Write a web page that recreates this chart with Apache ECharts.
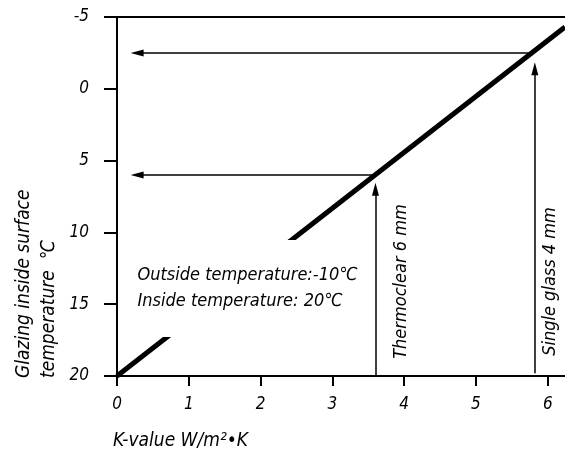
<!DOCTYPE html>
<html>
<head>
<meta charset="utf-8">
<script src="https://cdn.jsdelivr.net/npm/echarts@6/dist/echarts.min.js"></script>
<style>
  html, body { margin: 0; padding: 0; background: #fff; }
  #main { width: 565px; height: 453px; }
</style>
</head>
<body>
<div id="main"></div>
<script>
// main curve: K-value vs glazing inside surface temperature
var kValues = [0, 6.24];
var surfaceTemps = [20, -4.3];

// glazing types marked with arrows
var glazingNames = ['Thermoclear 6 mm', 'Single glass 4 mm'];
var glazingK = [3.6, 5.82];
var glazingTemps = [6.0, -2.5];
var lineK = [3.6, 5.78];          // where the horizontal arrows leave the curve
var arrowBase = [20, 19.8];       // bottom of vertical arrows
var arrowTip = [7.0, -1.4];       // top of vertical arrows
var arrowLeftK = 0.28;            // tip of horizontal arrows
var glazingLabelK = [3.965, 6.04];
var glazingLabelT = [13.42, 13.42];

var xTicks = [0, 1, 2, 3, 4, 5, 6];
var yTicks = [-5, 0, 5, 10, 15, 20];

var noteText = 'Outside temperature:-10\u2103\nInside temperature: 20\u2103';
var notePos = [0.23, 13.91];

var FONT = "'DejaVu Sans Condensed', 'DejaVu Sans', sans-serif";

var myChart = echarts.init(document.getElementById('main'));

var curve = [];
for (var i = 0; i < kValues.length; i++) {
    curve.push([kValues[i], surfaceTemps[i]]);
}

var arrows = [];
var labelPts = [];
for (var j = 0; j < glazingNames.length; j++) {
    arrows.push([{ coord: [lineK[j], glazingTemps[j]] }, { coord: [arrowLeftK, glazingTemps[j]] }]);
    arrows.push([{ coord: [glazingK[j], arrowBase[j]] }, { coord: [glazingK[j], arrowTip[j]] }]);
    labelPts.push({ name: glazingNames[j], value: [glazingLabelK[j], glazingLabelT[j]] });
}

var option = {
    animation: false,
    grid: { left: 117, right: 0, top: 17, bottom: 77, outerBoundsMode: 'none' },
    xAxis: [
        {
            type: 'value',
            min: 0,
            max: 6.24,
            interval: 1,
            position: 'bottom',
            axisLine: { show: true, onZero: false, lineStyle: { color: '#000', width: 2 } },
            axisTick: { show: true, length: 10, lineStyle: { color: '#000', width: 2 }, customValues: xTicks },
            axisLabel: {
                margin: 20, color: '#000', fontSize: 17, fontStyle: 'italic', fontFamily: FONT,
                customValues: xTicks
            },
            splitLine: { show: false }
        },
        {
            type: 'value',
            min: 0,
            max: 6.24,
            position: 'top',
            axisLine: { show: true, onZero: false, lineStyle: { color: '#000', width: 2 } },
            axisTick: { show: false },
            axisLabel: { show: false },
            splitLine: { show: false }
        }
    ],
    yAxis: {
        type: 'value',
        inverse: true,
        min: -5,
        max: 20,
        interval: 5,
        axisLine: { show: true, onZero: false, lineStyle: { color: '#000', width: 2 } },
        axisTick: { show: true, length: 13, lineStyle: { color: '#000', width: 2 }, customValues: yTicks },
        axisLabel: {
            margin: 28, color: '#000', fontSize: 17, fontStyle: 'italic', fontFamily: FONT,
            customValues: yTicks
        },
        splitLine: { show: false }
    },
    graphic: [
        {
            type: 'text',
            x: 12,
            y: 378,
            rotation: Math.PI / 2,
            style: {
                text: 'Glazing inside surface\ntemperature  \u2103',
                fill: '#000',
                font: 'italic 19px ' + FONT,
                lineHeight: 25,
                textAlign: 'left',
                textVerticalAlign: 'top'
            }
        },
        {
            type: 'text',
            x: 113,
            y: 441,
            style: {
                text: 'K-value W/m\u00b2\u2022K',
                fill: '#000',
                font: 'italic 19px ' + FONT,
                textAlign: 'left',
                textVerticalAlign: 'middle'
            }
        }
    ],
    series: [
        {
            name: 'curve',
            type: 'line',
            data: curve,
            symbol: 'none',
            z: 2,
            lineStyle: { color: '#000', width: 5 }
        },
        {
            name: 'note',
            type: 'scatter',
            data: [notePos],
            symbolSize: 0,
            z: 5,
            itemStyle: { color: 'rgba(0,0,0,0)', opacity: 1 },
            label: {
                show: true,
                position: 'right',
                distance: 0,
                formatter: noteText,
                color: '#000',
                fontSize: 18,
                lineHeight: 26,
                fontStyle: 'italic',
                fontFamily: FONT,
                backgroundColor: '#fff',
                padding: [19, 6, 26, 4]
            }
        },
        {
            name: 'arrows',
            type: 'line',
            data: [],
            z: 6,
            markLine: {
                silent: true,
                symbol: ['none', 'triangle'],
                symbolSize: [7, 13],
                lineStyle: { color: '#000', width: 1.5, type: 'solid' },
                label: { show: false },
                data: arrows
            }
        },
        {
            name: 'glazing',
            type: 'scatter',
            data: labelPts,
            symbolSize: 0,
            z: 6,
            itemStyle: { color: 'rgba(0,0,0,0)', opacity: 1 },
            label: {
                show: true,
                position: 'inside',
                rotate: 90,
                formatter: '{b}',
                color: '#000',
                fontSize: 18,
                fontStyle: 'italic',
                fontFamily: FONT
            }
        }
    ]
};

option && myChart.setOption(option);
</script>
</body>
</html>
